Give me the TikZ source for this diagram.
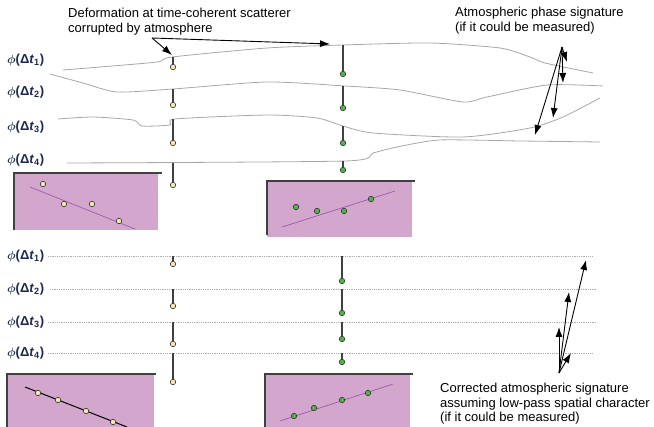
\documentclass[tikz,border=0pt]{standalone}
\usepackage{amsmath}
\usepackage{fontspec}
\setmainfont{Liberation Sans}
\usepackage{tikz}
\usetikzlibrary{arrows.meta}

\definecolor{boxpink}{RGB}{211,166,206}
\definecolor{fitline}{RGB}{150,80,160}
\definecolor{dotyellow}{RGB}{246,232,170}
\definecolor{dotgreen}{RGB}{80,180,70}
\definecolor{labelblue}{RGB}{30,40,80}

\tikzset{
  phase/.style={gray!70, line width=0.8pt},
  flat/.style={gray!65, line width=0.8pt, densely dotted},
  stem/.style={black!75, line width=1.1pt},
  frame/.style={black!75, line width=1.2pt},
  yel/.style={circle, draw=black!80, line width=0.6pt, fill=dotyellow, minimum size=5.5pt, inner sep=0pt},
  grn/.style={circle, draw=black!80, line width=0.6pt, fill=dotgreen, minimum size=5.5pt, inner sep=0pt},
  lbl/.style={anchor=west, inner sep=0pt, text=labelblue, font=\fontsize{13}{15}\selectfont\bfseries},
  note/.style={anchor=north west, align=left, inner sep=0pt, font=\fontsize{13}{14.5}\selectfont}
}

\begin{document}
\begin{tikzpicture}[x=1pt, y=-1pt, >={Latex[length=10pt,width=7pt]}]
  \useasboundingbox (0,0) rectangle (654,427);

  \node (deform) [note] at (68,8) {Deformation at time-coherent scatterer\\corrupted by atmosphere};
  \node (atmos) [note] at (455,7) {Atmospheric phase signature\\(if it could be measured)};
  \node (corrected) [note] at (440,383) {Corrected atmospheric signature\\assuming low-pass spatial character\\(if it could be measured)};

  \node (phiA1) [lbl] at (7,60) {\(\boldsymbol{\phi}\)(Δ\textit{t}\textsubscript{1})};
  \node (phiA2) [lbl] at (7,92) {\(\boldsymbol{\phi}\)(Δ\textit{t}\textsubscript{2})};
  \node (phiA3) [lbl] at (7,127) {\(\boldsymbol{\phi}\)(Δ\textit{t}\textsubscript{3})};
  \node (phiA4) [lbl] at (7,160) {\(\boldsymbol{\phi}\)(Δ\textit{t}\textsubscript{4})};
  \node (phiB1) [lbl] at (7,256) {\(\boldsymbol{\phi}\)(Δ\textit{t}\textsubscript{1})};
  \node (phiB2) [lbl] at (7,289) {\(\boldsymbol{\phi}\)(Δ\textit{t}\textsubscript{2})};
  \node (phiB3) [lbl] at (7,322) {\(\boldsymbol{\phi}\)(Δ\textit{t}\textsubscript{3})};
  \node (phiB4) [lbl] at (7,353) {\(\boldsymbol{\phi}\)(Δ\textit{t}\textsubscript{4})};

  \draw[phase] plot[smooth, tension=0.4] coordinates {(63,70) (100,67) (157,62) (172,57) (267,48) (343,45) (430,43) (500,48) (530,57) (545,63) (593,73)};
  \draw[phase] plot[smooth, tension=0.4] coordinates {(50,74) (83,83) (117,92) (173,89) (267,82) (345,86) (400,90) (463,102) (487,97) (547,85) (603,86)};
  \draw[phase] plot[smooth, tension=0.4] coordinates {(58,119) (93,117) (133,120) (142,126) (170,125) (175,119) (267,115) (317,118) (343,126) (373,133) (463,137) (530,128) (563,117) (600,98)};
  \draw[phase] plot[smooth, tension=0.4] coordinates {(67,163) (345,161) (373,153) (397,147) (440,140) (520,141) (600,142)};

  \draw[flat] (48,256) -- (593,256);
  \draw[flat] (50,289) -- (597,289);
  \draw[flat] (48,322) -- (596,322);
  \draw[flat] (48,353) -- (593,353);

  \fill[boxpink] (14,173) rectangle (158,230);
  \draw[frame] (14,230) -- (14,173) -- (162,173);
  \draw[fitline, line width=0.6pt] (30,187) -- (135,229);
  \node (a1) [yel] at (43,184) {};
  \node (a2) [yel] at (64,204) {};
  \node (a3) [yel] at (92,204) {};
  \node (a4) [yel] at (119,221) {};

  \fill[boxpink] (267,181) rectangle (412,237);
  \draw[frame] (267,235) -- (267,181) -- (415,181);
  \draw[fitline, line width=0.6pt] (282,227) -- (395,191);
  \node (b1) [grn] at (296,207) {};
  \node (b2) [grn] at (317,211) {};
  \node (b3) [grn] at (344,211) {};
  \node (b4) [grn] at (371,199) {};

  \fill[boxpink] (7,374) rectangle (154,427);
  \draw[frame] (7,427) -- (7,374) -- (156,374);
  \draw[black, line width=1pt] (25,387) -- (127,427);
  \node (c1) [yel] at (38,393) {};
  \node (c2) [yel] at (58,400) {};
  \node (c3) [yel] at (86,411) {};
  \node (c4) [yel] at (113,422) {};

  \fill[boxpink] (265,374) rectangle (410,427);
  \draw[frame] (265,427) -- (265,374) -- (413,374);
  \draw[fitline, line width=0.6pt] (280,421) -- (393,384);
  \node (d1) [grn] at (294,416) {};
  \node (d2) [grn] at (314,408) {};
  \node (d3) [grn] at (342,400) {};
  \node (d4) [grn] at (368,393) {};

  \coordinate (yu1t) at (173,57);
  \coordinate (yu2t) at (173,89);
  \coordinate (yu3t) at (173,119);
  \coordinate (yu4t) at (173,163);
  \node (yu1) [yel] at (173,67) {};
  \node (yu2) [yel] at (173,105) {};
  \node (yu3) [yel] at (173,143) {};
  \node (yu4) [yel] at (173,185) {};
  \draw[stem] (yu1t) -- (yu1);
  \draw[stem] (yu2t) -- (yu2);
  \draw[stem] (yu3t) -- (yu3);
  \draw[stem] (yu4t) -- (yu4);

  \coordinate (gu1t) at (343,45);
  \coordinate (gu2t) at (343,86);
  \coordinate (gu3t) at (343,126);
  \coordinate (gu4t) at (343,161);
  \node (gu1) [grn] at (343,74) {};
  \node (gu2) [grn] at (343,108) {};
  \node (gu3) [grn] at (343,143) {};
  \node (gu4) [grn] at (343,170) {};
  \draw[stem] (gu1t) -- (gu1);
  \draw[stem] (gu2t) -- (gu2);
  \draw[stem] (gu3t) -- (gu3);
  \draw[stem] (gu4t) -- (gu4);

  \coordinate (yl1t) at (173,256);
  \coordinate (yl2t) at (173,289);
  \coordinate (yl3t) at (173,322);
  \coordinate (yl4t) at (173,353);
  \node (yl1) [yel] at (173,264) {};
  \node (yl2) [yel] at (173,306) {};
  \node (yl3) [yel] at (173,344) {};
  \node (yl4) [yel] at (173,382) {};
  \draw[stem] (yl1t) -- (yl1);
  \draw[stem] (yl2t) -- (yl2);
  \draw[stem] (yl3t) -- (yl3);
  \draw[stem] (yl4t) -- (yl4);

  \coordinate (gl1t) at (342,256);
  \coordinate (gl2t) at (342,289);
  \coordinate (gl3t) at (342,322);
  \coordinate (gl4t) at (342,353);
  \node (gl1) [grn] at (342,281) {};
  \node (gl2) [grn] at (342,313) {};
  \node (gl3) [grn] at (342,339) {};
  \node (gl4) [grn] at (342,362) {};
  \draw[stem] (gl1t) -- (gl1);
  \draw[stem] (gl2t) -- (gl2);
  \draw[stem] (gl3t) -- (gl3);
  \draw[stem] (gl4t) -- (gl4);

  \coordinate (defo) at (152,38);
  \coordinate (defa) at (172,55);
  \coordinate (defb) at (330,44);
  \draw[->, line width=0.9pt] (defo) -- (defa);
  \draw[->, line width=0.9pt] (defo) -- (defb);

  \coordinate (atmo) at (562,47);
  \coordinate (atm1) at (567,62);
  \coordinate (atm2) at (563,83);
  \coordinate (atm3) at (553,118);
  \coordinate (atm4) at (535,135);
  \draw[->, line width=0.9pt] (atmo) -- (atm1);
  \draw[->, line width=0.9pt] (atmo) -- (atm2);
  \draw[->, line width=0.9pt] (atmo) -- (atm3);
  \draw[->, line width=0.9pt] (atmo) -- (atm4);

  \coordinate (coro) at (559,373);
  \coordinate (cor1) at (586,260);
  \coordinate (cor2) at (569,292);
  \coordinate (cor3) at (559,327);
  \coordinate (cor4) at (571,353);
  \draw[->, line width=0.9pt] (coro) -- (cor1);
  \draw[->, line width=0.9pt] (coro) -- (cor2);
  \draw[->, line width=0.9pt] (coro) -- (cor3);
  \draw[->, line width=0.9pt] (coro) -- (cor4);
\end{tikzpicture}
\end{document}
